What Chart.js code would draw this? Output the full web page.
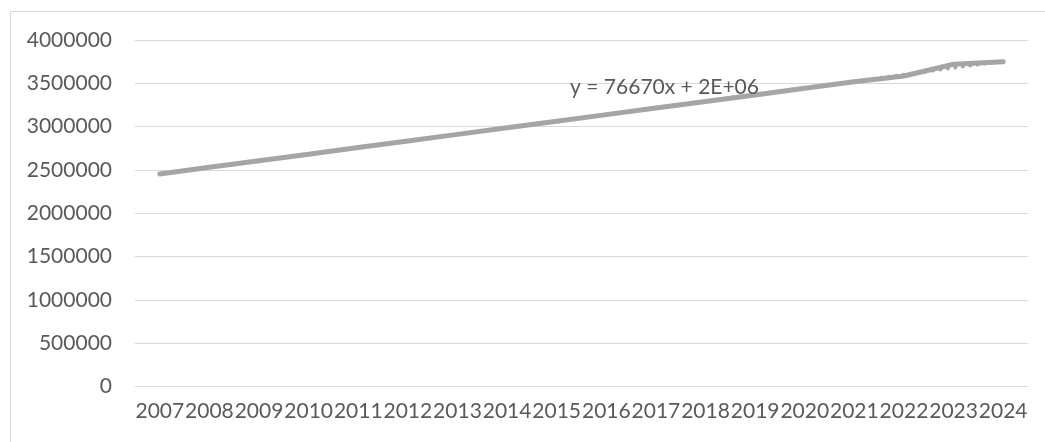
<!DOCTYPE html>
<html>
<head>
<meta charset="utf-8">
<script src="https://cdn.jsdelivr.net/npm/chart.js@4/dist/chart.umd.min.js"></script>
<style>
  html, body { margin: 0; padding: 0; background: #ffffff; overflow: hidden; }
  #wrap { position: relative; width: 1045px; height: 442px; }
</style>
</head>
<body>
<div id="wrap"><canvas id="chart" width="1045" height="442"></canvas></div>
<script>
// Years on the category axis
const years = ['2007','2008','2009','2010','2011','2012','2013','2014','2015',
               '2016','2017','2018','2019','2020','2021','2022','2023','2024'];

// Yearly totals
const totals = [2455000, 2531000, 2607000, 2683000, 2759000, 2835000, 2911000, 2987000, 3063000,
                3139000, 3215000, 3291000, 3366000, 3443000, 3519000, 3585000, 3720000, 3750000];

// Value axis range and step
const yMin = 0;
const yMax = 4000000;
const yStep = 500000;

// Least-squares linear trend, x = 1..n (as in a spreadsheet trendline)
function linearFit(values) {
  const n = values.length;
  let sx = 0, sy = 0, sxx = 0, sxy = 0;
  values.forEach((y, i) => {
    const x = i + 1;
    sx += x; sy += y; sxx += x * x; sxy += x * y;
  });
  const slope = (n * sxy - sx * sy) / (n * sxx - sx * sx);
  const intercept = (sy - slope * sx) / n;
  return { slope, intercept };
}
const fit = linearFit(totals);
const trend = totals.map((_, i) => fit.slope * (i + 1) + fit.intercept);

// Spreadsheet-style equation text: slope to 4 significant digits, intercept in E notation
function sciE(v) {
  const [m, e] = v.toExponential(0).split('e');
  const sign = e[0] === '-' ? '-' : '+';
  const digits = e.replace(/^[+-]/, '').padStart(2, '0');
  return m + 'E' + sign + digits;
}
const equation = 'y = ' + Number(fit.slope.toPrecision(4)) + 'x + ' + sciE(fit.intercept);

const TEXT = '#595959';
const GRID = '#d9d9d9';
const LINE = '#a5a5a5';
const FONT = { family: 'Lato', size: 21 };

// Outer chart frame
const framePlugin = {
  id: 'frame',
  beforeDraw(chart) {
    const ctx = chart.ctx;
    ctx.save();
    ctx.fillStyle = '#ffffff';
    ctx.fillRect(0, 0, chart.width, chart.height);
    ctx.strokeStyle = GRID;
    ctx.lineWidth = 1;
    ctx.strokeRect(10.5, 11.5, chart.width + 20, chart.height + 20);
    ctx.restore();
  }
};

// Trendline equation label
const equationPlugin = {
  id: 'equation',
  afterDatasetsDraw(chart) {
    const { ctx, scales } = chart;
    const x = scales.x.getPixelForValue(8.27);
    const y = scales.y.getPixelForValue(3450000);
    ctx.save();
    ctx.font = FONT.size + 'px ' + FONT.family;
    ctx.fillStyle = TEXT;
    ctx.textAlign = 'left';
    ctx.textBaseline = 'middle';
    ctx.fillText(equation, x, y);
    ctx.restore();
  }
};

new Chart(document.getElementById('chart'), {
  type: 'line',
  data: {
    labels: years,
    datasets: [
      {
        data: totals,
        borderColor: LINE,
        borderWidth: 5,
        borderCapStyle: 'round',
        borderJoinStyle: 'round',
        pointRadius: 0,
        tension: 0,
        fill: false
      },
      {
        data: trend,
        borderColor: LINE,
        borderWidth: 3.5,
        borderDash: [0.5, 7],
        borderCapStyle: 'round',
        pointRadius: 0,
        tension: 0,
        fill: false
      }
    ]
  },
  options: {
    responsive: false,
    animation: false,
    layout: { padding: { left: 0, right: 17, top: 40, bottom: 0 } },
    plugins: {
      legend: { display: false },
      tooltip: { enabled: false }
    },
    scales: {
      x: {
        offset: true,
        grid: { display: false, drawTicks: false },
        border: { display: false },
        ticks: {
          color: TEXT,
          font: FONT,
          autoSkip: false,
          maxRotation: 0,
          minRotation: 0,
          padding: 12
        },
        afterFit(scale) { scale.height = 55.3; }
      },
      y: {
        min: yMin,
        max: yMax,
        grid: { color: GRID, lineWidth: 1, drawTicks: false },
        border: { display: false },
        ticks: {
          stepSize: yStep,
          color: TEXT,
          font: FONT,
          padding: 23,
          callback: (v) => String(v)
        },
        afterFit(scale) { scale.width = 135; }
      }
    }
  },
  plugins: [framePlugin, equationPlugin]
});
</script>
</body>
</html>
